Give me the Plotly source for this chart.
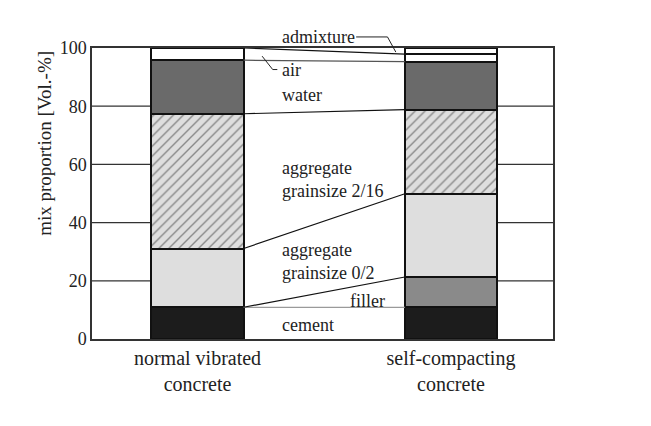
import numpy as np
import plotly.graph_objects as go

# ---- data ----
concretes = ["normal vibrated<br>concrete", "self-compacting<br>concrete"]
components = ["cement", "filler", "aggregate 0/2", "aggregate 2/16", "water", "air", "admixture"]
normal_vibrated = [10.9, 0.0, 20.2, 46.3, 18.4, 4.2, 0.0]
self_compacting = [10.9, 10.4, 28.6, 28.9, 16.5, 2.6, 2.1]
y_ticks = [0, 20, 40, 60, 80, 100]
labels = ["cement", "filler", "aggregate<br>grainsize 0/2", "aggregate<br>grainsize 2/16", "water", "air", "admixture"]

# ---- style ----
FONT = "Liberation Serif, Times New Roman, serif"
fills = ["#1c1c1c", "#8a8a8a", "#dedede", "#dedede", "#6a6a6a", "#ffffff", "#ffffff"]
patterns = ["", "", "", "/", "", "", ""]
link_colors = ["#9a9a9a", "#111111", "#111111", "#111111", "#555555", "#111111", "#111111"]
bar_x = [0.2289, 0.7787]
bar_w = 0.2

fig = go.Figure()
for i, comp in enumerate(components):
    fig.add_trace(go.Bar(
        x=bar_x, y=[normal_vibrated[i], self_compacting[i]], width=bar_w, name=comp,
        marker=dict(color=fills[i], line=dict(color="#111111", width=2),
                    pattern=dict(shape=patterns[i], fgcolor="#333333", bgcolor=fills[i],
                                 size=7, solidity=0.2, fillmode="overlay")),
        showlegend=False, hoverinfo="skip"))

# connecting lines between bars at cumulative boundaries
cum_n = np.cumsum(normal_vibrated)
cum_s = np.cumsum(self_compacting)
x_left = bar_x[0] + bar_w / 2
x_right = bar_x[1] - bar_w / 2
for i in range(len(components) - 1):
    fig.add_trace(go.Scatter(x=[x_left, x_right], y=[cum_n[i], cum_s[i]], mode="lines",
                             line=dict(color=link_colors[i], width=1.2),
                             showlegend=False, hoverinfo="skip"))

# gridlines only at the sides
shapes = []
for t in y_ticks[1:-1]:
    shapes.append(dict(type="line", xref="x", yref="y", x0=0, x1=bar_x[0] - bar_w / 2, y0=t, y1=t,
                       line=dict(color="#333333", width=1.2), layer="below"))
    shapes.append(dict(type="line", xref="x", yref="y", x0=bar_x[1] + bar_w / 2, x1=1, y0=t, y1=t,
                       line=dict(color="#333333", width=1.2), layer="below"))

# leader lines (paper y so they may leave the plot area)
shapes.append(dict(type="path", xref="x", yref="paper",
                   path="M 0.573 1.038 L 0.641 1.038 L 0.659 0.986",
                   line=dict(color="#222222", width=1)))
shapes.append(dict(type="path", xref="x", yref="paper",
                   path="M 0.369 0.972 L 0.392 0.926 L 0.402 0.926",
                   line=dict(color="#222222", width=1)))

annotations = []
label_pos = {
    "cement": (0.408, 4.8), "filler": (0.555, 13.1),
    "aggregate<br>grainsize 0/2": (0.408, 26.5), "aggregate<br>grainsize 2/16": (0.408, 54.8),
    "water": (0.408, 84.0), "air": (0.408, 92.6), "admixture": (0.408, 103.8),
}
for lab in labels:
    x, y = label_pos[lab]
    annotations.append(dict(x=x, y=y / 100, xref="x", yref="paper", text=lab, showarrow=False,
                            xanchor="left", yanchor="middle", align="left",
                            font=dict(family=FONT, size=18, color="#222222")))
annotations.append(dict(x=-0.102, y=0.674, xref="paper", yref="paper",
                        text="mix proportion [Vol.-%]", textangle=-90, showarrow=False,
                        xanchor="center", yanchor="middle",
                        font=dict(family=FONT, size=19, color="#222222")))

fig.update_layout(
    width=643, height=418,
    margin=dict(l=84, r=98, t=40, b=87),
    paper_bgcolor="white", plot_bgcolor="white",
    barmode="stack", bargap=0,
    shapes=shapes, annotations=annotations,
    font=dict(family=FONT, size=18, color="#222222"),
)
fig.update_xaxes(range=[0, 1], tickvals=bar_x, ticktext=concretes, showgrid=False,
                 showline=True, mirror=True, linecolor="#333333", linewidth=1.5,
                 ticks="", tickfont=dict(family=FONT, size=20, color="#222222"), zeroline=False)
fig.update_yaxes(range=[0, 100], tickvals=y_ticks, showgrid=False,
                 showline=True, mirror=True, linecolor="#333333", linewidth=1.5,
                 ticks="", tickfont=dict(family=FONT, size=18, color="#222222"), zeroline=False)

fig.write_html("out.html")
